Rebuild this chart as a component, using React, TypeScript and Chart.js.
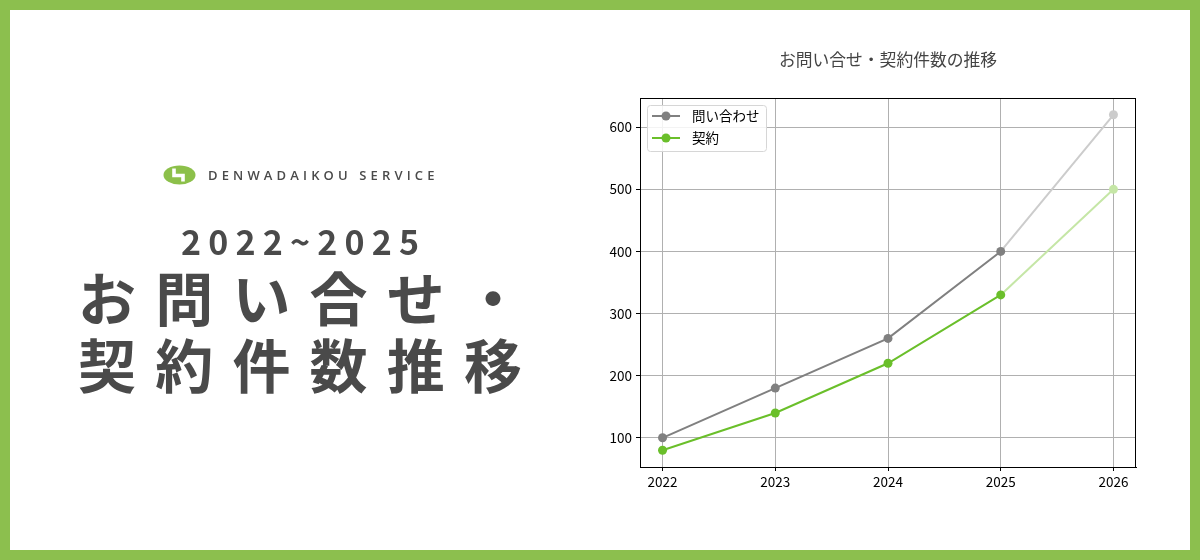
import { useEffect, useRef } from 'react';
import { Chart, registerables } from 'chart.js';

Chart.register(...registerables);

// data
const years = [2022, 2023, 2024, 2025, 2026];
const inquiries = [100, 180, 260, 400, 620];
const contracts = [80, 140, 220, 330, 500];
const yTicks = [100, 200, 300, 400, 500, 600];
const seriesLabels = ['問い合わせ', '契約'];
const chartTitle = 'お問い合せ・契約件数の推移';
const forecastFrom = 3; // segment after this index is the estimate

const FONT = '"Noto Sans CJK JP", "Noto Sans", sans-serif';
const GRAY = '#808080';
const GRAY_LIGHT = '#cccccc';
const GREEN = '#6abf2a';
const GREEN_LIGHT = '#c5e6a6';

// frame on all four sides, title and an in-plot legend like matplotlib
const framePlugin = {
  id: 'frameAndLegend',
  afterDraw(chart: any) {
    const { ctx, chartArea } = chart;
    const { left, top, right, bottom } = chartArea;
    ctx.save();
    ctx.strokeStyle = '#000';
    ctx.lineWidth = 1;
    ctx.strokeRect(Math.round(left) + 0.5, Math.round(top) + 0.5, Math.round(right - left) - 1, Math.round(bottom - top));

    // title
    ctx.fillStyle = '#444';
    ctx.font = `16.8px ${FONT}`;
    ctx.textAlign = 'center';
    ctx.textBaseline = 'middle';
    ctx.fillText(chartTitle, (left + right) / 2, 60);

    // legend box
    const bx = left + 7;
    const by = top + 7;
    const bw = 119;
    const bh = 46;
    ctx.fillStyle = 'rgba(255,255,255,0.85)';
    ctx.strokeStyle = '#d6d6d6';
    ctx.beginPath();
    ctx.roundRect(bx + 0.5, by + 0.5, bw, bh, 3);
    ctx.fill();
    ctx.stroke();

    chart.data.datasets.forEach((ds: any, i: number) => {
      const y = by + 11 + i * 22;
      const color = ds.borderColor;
      ctx.strokeStyle = color;
      ctx.lineWidth = 2;
      ctx.beginPath();
      ctx.moveTo(bx + 5, y);
      ctx.lineTo(bx + 33, y);
      ctx.stroke();
      ctx.fillStyle = color;
      ctx.beginPath();
      ctx.arc(bx + 19, y, 4.5, 0, Math.PI * 2);
      ctx.fill();
      ctx.fillStyle = '#000';
      ctx.font = `13.5px ${FONT}`;
      ctx.textAlign = 'left';
      ctx.textBaseline = 'middle';
      ctx.fillText(ds.label, bx + 45, y);
    });
    ctx.restore();
  },
};

function TrendChart() {
  const chartRef = useRef<HTMLCanvasElement>(null);
  const chartInstance = useRef<Chart | null>(null);

  useEffect(() => {
    if (!chartRef.current) return;
    const ctx = chartRef.current.getContext('2d');
    if (!ctx) return;
    if (chartInstance.current) chartInstance.current.destroy();

    const makeSet = (label: string, values: number[], color: string, light: string) => ({
      label,
      data: values.map((v, i) => ({ x: years[i], y: v })),
      borderColor: color,
      borderWidth: 2,
      pointRadius: 4.5,
      pointHoverRadius: 4.5,
      pointBorderWidth: 0,
      pointBackgroundColor: values.map((_, i) => (i > forecastFrom ? light : color)),
      segment: {
        borderColor: (c: any) => (c.p0DataIndex >= forecastFrom ? light : color),
      },
      tension: 0,
    });

    chartInstance.current = new Chart(ctx, {
      type: 'line',
      data: {
        datasets: [
          makeSet(seriesLabels[0], inquiries, GRAY, GRAY_LIGHT),
          makeSet(seriesLabels[1], contracts, GREEN, GREEN_LIGHT),
        ],
      },
      plugins: [framePlugin],
      options: {
        animation: false,
        responsive: true,
        maintainAspectRatio: false,
        layout: { padding: { left: 600, top: 98, right: 64, bottom: 63 } },
        plugins: {
          legend: { display: false },
          title: { display: false },
          tooltip: { enabled: false },
        },
        scales: {
          x: {
            type: 'linear',
            min: 2021.8,
            max: 2026.2,
            afterFit: (s: any) => { s.height = 30; },
            afterBuildTicks: (s: any) => { s.ticks = years.map((v) => ({ value: v })); },
            grid: { color: '#b0b0b0', tickColor: '#000', tickLength: 4, lineWidth: 1 },
            border: { display: true, color: '#000', width: 1 },
            ticks: {
              color: '#000',
              font: { family: FONT, size: 13.5 },
              padding: 3,
              callback: (v: any) => String(v),
              maxRotation: 0,
            },
          },
          y: {
            min: 53,
            max: 647,
            afterFit: (s: any) => { s.width = 40; },
            afterBuildTicks: (s: any) => { s.ticks = yTicks.map((v) => ({ value: v })); },
            grid: { color: '#b0b0b0', tickColor: '#000', tickLength: 4, lineWidth: 1 },
            border: { display: true, color: '#000', width: 1 },
            ticks: {
              color: '#000',
              font: { family: FONT, size: 13.5 },
              padding: 4,
            },
          },
        },
      },
    });

    return () => {
      if (chartInstance.current) {
        chartInstance.current.destroy();
        chartInstance.current = null;
      }
    };
  }, []);

  return (
    <div style={{ position: 'absolute', left: 0, top: 0, width: 1200, height: 560 }}>
      <canvas ref={chartRef} />
    </div>
  );
}

function Logo() {
  return (
    <svg width="33" height="20" viewBox="0 0 33 20" style={{ display: 'block' }}>
      <ellipse cx="16.5" cy="10" rx="16" ry="9.5" fill="#8cc04a" />
      <path d="M11 3.5 V10.5 H20 V16.5" stroke="#fff" strokeWidth="3.6" fill="none" />
    </svg>
  );
}

export default function App() {
  const text = '#4a4a4a';
  return (
    <div
      style={{
        position: 'fixed',
        inset: 0,
        width: 1200,
        height: 560,
        background: '#fff',
        fontFamily: FONT,
        overflow: 'hidden',
      }}
    >
      <TrendChart />
      {/* green frame */}
      <div
        style={{
          position: 'absolute',
          inset: 0,
          border: '10px solid #8cbf4e',
          pointerEvents: 'none',
        }}
      />
      {/* left heading */}
      <div style={{ position: 'absolute', left: 163, top: 165, display: 'flex', alignItems: 'center' }}>
        <Logo />
        <span
          style={{
            marginLeft: 12,
            fontFamily: '"Open Sans", sans-serif',
            fontWeight: 600,
            fontSize: 13,
            letterSpacing: 4.15,
            color: text,
            lineHeight: '20px',
          }}
        >
          DENWADAIKOU SERVICE
        </span>
      </div>
      <div
        style={{
          position: 'absolute',
          left: 181,
          top: 218,
          fontWeight: 700,
          fontSize: 34,
          letterSpacing: 7.2,
          color: text,
          lineHeight: '46px',
          whiteSpace: 'nowrap',
        }}
      >
        2022~2025
      </div>
      <div
        style={{
          position: 'absolute',
          left: 78,
          top: 263,
          fontWeight: 700,
          fontSize: 58,
          letterSpacing: 19.2,
          color: text,
          lineHeight: '67px',
          whiteSpace: 'nowrap',
        }}
      >
        <div>お問い合せ・</div>
        <div>契約件数推移</div>
      </div>
    </div>
  );
}
